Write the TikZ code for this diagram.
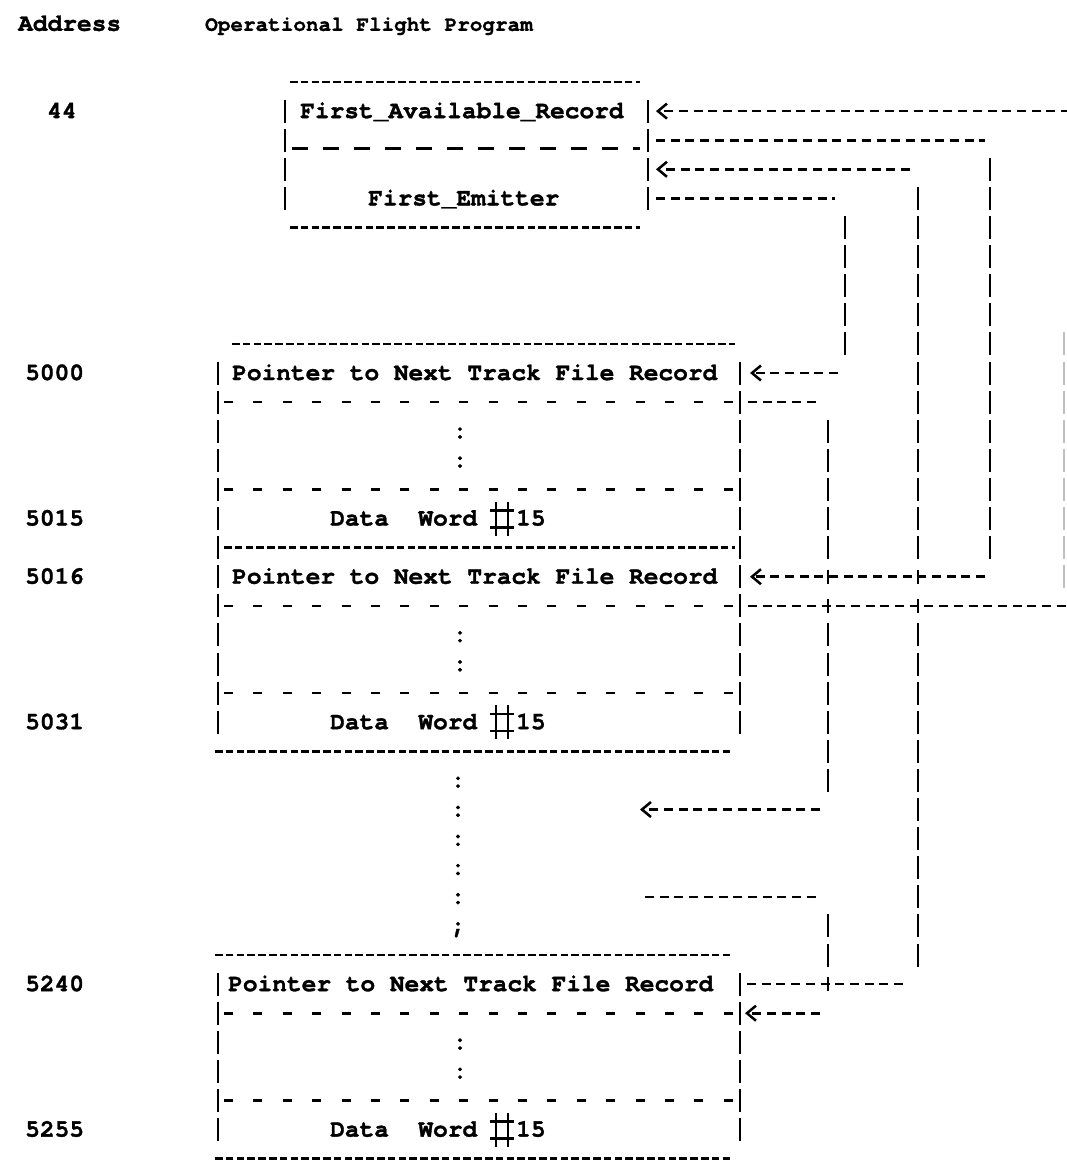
\documentclass[tikz,border=0pt]{standalone}
\usepackage{fontspec}
\setmonofont{texgyrecursor}[Extension=.otf, UprightFont=*-regular, BoldFont=*-bold, BoldFeatures={FakeBold=1.3}]
\usetikzlibrary{arrows.meta}
\newcommand\RY[1]{373+29.1*(#1)}
\newcommand\vb[4][]{\draw[vbar,#1] (#2,{\RY{#3}-11.5}) -- (#2,{\RY{#4}+11.5});}
\newcommand\plusmark[2]{\draw[plusst] (#1,{\RY{#2}-7}) -- (#1,{\RY{#2}+7});}
\newcommand\hashglyph[2]{%
  \draw[glyph] (#1-6,{\RY{#2}-17}) -- (#1-6,{\RY{#2}+17});
  \draw[glyph] (#1+6,{\RY{#2}-17}) -- (#1+6,{\RY{#2}+17});
  \draw[glyph] (#1-12,{\RY{#2}-8}) -- (#1+12,{\RY{#2}-8});
  \draw[glyph] (#1-12,{\RY{#2}+9}) -- (#1+12,{\RY{#2}+9});}
\begin{document}
\begin{tikzpicture}[x=1pt,y=-1pt,
  tw/.style={font=\ttfamily\bfseries\fontsize{24.5}{28}\selectfont, inner sep=0pt, anchor=base west},
  twt/.style={font=\ttfamily\bfseries\fontsize{21}{24}\selectfont, inner sep=0pt, anchor=base west},
  colon/.style={font=\ttfamily\bfseries\fontsize{24.5}{28}\selectfont, inner sep=0pt, anchor=base},
  hy/.style={line width=2.6pt, dash pattern=on 9pt off 5.7pt},
  dense/.style={line width=2.6pt, dash pattern=on 7.5pt off 3.3pt},
  sepl/.style={line width=2.6pt, dash pattern=on 9pt off 20.4pt},
  undl/.style={line width=2.6pt, dash pattern=on 16pt off 15pt},
  vbar/.style={line width=2.5pt, dash pattern=on 23pt off 6.1pt},
  plusst/.style={line width=2.4pt},
  glyph/.style={line width=2.4pt},
  faint/.style={vbar, black!25, line width=1.6pt},
  tip/.style={-{Straight Barb[length=9pt,width=15pt,line width=2.5pt]}}]
\useasboundingbox (0,0) rectangle (1066,1167);
\fill[white] (0,0) rectangle (1066,1167);

% header
\node[tw] (addr) at (18,{\RY{-12}+7}) {Address};
\node[twt] (ofp) at (205,{\RY{-12}+7}) {Operational Flight Program};

% ---- box at 44
\node[colon] (a44) at (62,{\RY{-9}+7}) {44};
\draw[dense] (290,{\RY{-10}}) -- (640,{\RY{-10}});
\node[tw] (far) at (300,{\RY{-9}+7}) {First\_Available\_Record};
\vb{285}{-9}{-6}
\vb{648}{-9}{-6}
\draw[undl] (292,{\RY{-8}+8}) -- (640,{\RY{-8}+8});
\node[tw] (fe) at (368,{\RY{-6}+7}) {First\_Emitter};
\draw[dense] (290,{\RY{-5}}) -- (640,{\RY{-5}});

% ---- records 5000 / 5016
\node[tw] (l5000) at (25,{\RY{0}+7}) {5000};
\node[tw] (l5015) at (25,{\RY{5}+7}) {5015};
\node[tw] (l5016) at (25,{\RY{7}+7}) {5016};
\node[tw] (l5031) at (25,{\RY{12}+7}) {5031};
\draw[dense] (232,{\RY{-1}}) -- (735,{\RY{-1}});
\vb{218}{0}{12}
\vb{740}{0}{12}
\draw[dense] (224,{\RY{6}}) -- (735,{\RY{6}});
\draw[dense] (215,{\RY{13}}) -- (730,{\RY{13}});
\foreach \r in {1,4,8,11} {\draw[sepl] (224,{\RY{\r}}) -- (736,{\RY{\r}});}
\node[tw] (p5000) at (232,{\RY{0}+7}) {Pointer to Next Track File Record};
\node[tw] (p5016) at (232,{\RY{7}+7}) {Pointer to Next Track File Record};
\node[colon] (c1) at (460,{\RY{2}+7}) {:};
\node[colon] (c2) at (460,{\RY{3}+7}) {:};
\node[colon] (c3) at (460,{\RY{9}+7}) {:};
\node[colon] (c4) at (460,{\RY{10}+7}) {:};
\node[tw] (d5015) at (330,{\RY{5}+7}) {Data~~Word};
\hashglyph{502}{5}
\node[tw] (n5015) at (516,{\RY{5}+7}) {15};
\node[tw] (d5031) at (330,{\RY{12}+7}) {Data~~Word};
\hashglyph{502}{12}
\node[tw] (n5031) at (516,{\RY{12}+7}) {15};

% ---- elided records
\node[colon] (e1) at (458,{\RY{14}+7}) {:};
\node[colon] (e2) at (458,{\RY{15}+7}) {:};
\node[colon] (e3) at (458,{\RY{16}+7}) {:};
\node[colon] (e4) at (458,{\RY{17}+7}) {:};
\node[colon] (e5) at (458,{\RY{18}+7}) {:};
\node[colon] (e6) at (458,{\RY{19}+7}) {;};

% ---- record 5240
\node[tw] (l5240) at (25,{\RY{21}+7}) {5240};
\node[tw] (l5255) at (25,{\RY{26}+7}) {5255};
\draw[dense] (215,{\RY{20}}) -- (730,{\RY{20}});
\vb{218}{21}{26}
\vb{740}{21}{26}
\foreach \r in {22,25} {\draw[sepl] (224,{\RY{\r}}) -- (736,{\RY{\r}});}
\draw[dense] (215,{\RY{27}}) -- (730,{\RY{27}});
\node[tw] (p5240) at (228,{\RY{21}+7}) {Pointer to Next Track File Record};
\node[colon] (c5) at (460,{\RY{23}+7}) {:};
\node[colon] (c6) at (460,{\RY{24}+7}) {:};
\node[tw] (d5255) at (330,{\RY{26}+7}) {Data~~Word};
\hashglyph{502}{26}
\node[tw] (n5255) at (516,{\RY{26}+7}) {15};

% ---- connector end points
\coordinate (q44a) at (656,{\RY{-9}});
\coordinate (q44b) at (656,{\RY{-8}});
\coordinate (q44c) at (656,{\RY{-7}});
\coordinate (q44d) at (656,{\RY{-6}});
\coordinate (q00a) at (750,{\RY{0}});
\coordinate (q00b) at (748,{\RY{1}});
\coordinate (q16a) at (750,{\RY{7}});
\coordinate (q16b) at (748,{\RY{8}});
\coordinate (qmid) at (640,{\RY{15}});
\coordinate (qmid2) at (645,{\RY{18}});
\coordinate (q40a) at (747,{\RY{21}});
\coordinate (q40b) at (745,{\RY{22}});

% free-list return along the right edge
\draw[hy,tip] (1070,{\RY{-9}}) -- (q44a);
\draw[hy] (q16b) -- (1070,{\RY{8}});
\vb[faint]{1064}{-1}{7}

% First_Available_Record -> 5016
\draw[hy] (q44b) -- (985,{\RY{-8}});
\vb{990}{-7}{6}
\draw[hy,tip] (985,{\RY{7}}) -- (q16a);

% 5240 -> First_Emitter slot
\draw[hy,tip] (910,{\RY{-7}}) -- (q44c);
\vb{918}{-6}{6}
\plusmark{918}{7}
\plusmark{918}{8}
\vb{918}{9}{20}
\draw[hy] (q40a) -- (905,{\RY{21}});

% First_Emitter -> 5000
\draw[hy] (q44d) -- (835,{\RY{-6}});
\vb{845}{-5}{-1}
\draw[hy,tip] (838,{\RY{0}}) -- (q00a);

% 5000 -> elided records
\draw[hy] (q00b) -- (820,{\RY{1}});
\vb{828}{2}{6}
\plusmark{828}{7}
\plusmark{828}{8}
\vb{828}{9}{14}
\draw[hy,tip] (820,{\RY{15}}) -- (qmid);

% elided records -> 5240
\draw[hy] (qmid2) -- (820,{\RY{18}});
\vb{828}{19}{20}
\plusmark{828}{21}
\draw[hy,tip] (820,{\RY{22}}) -- (q40b);
\end{tikzpicture}
\end{document}
